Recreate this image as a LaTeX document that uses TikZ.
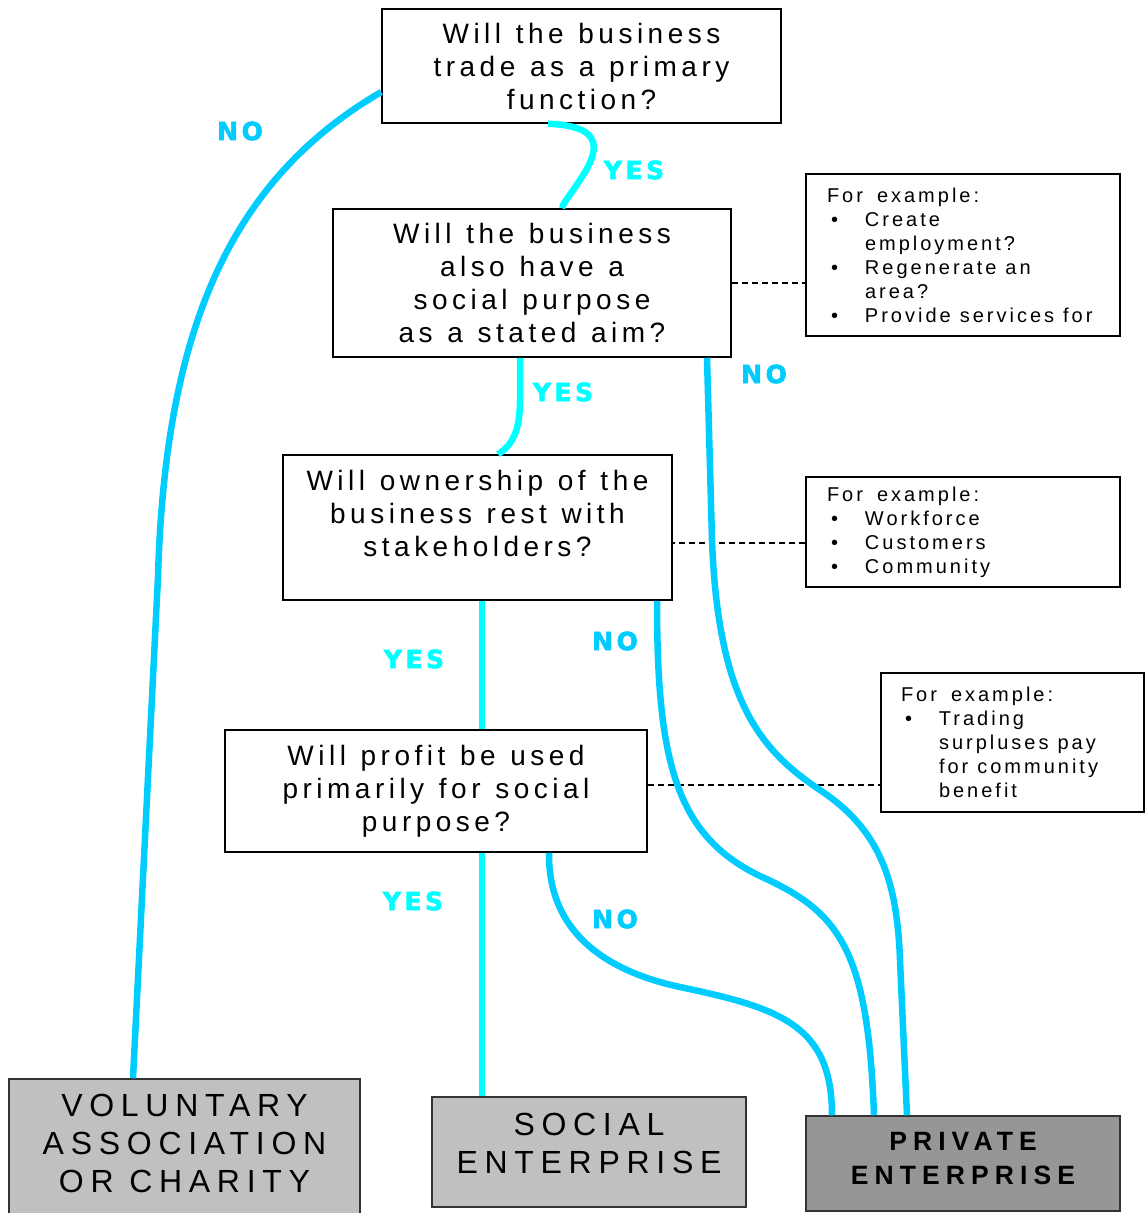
\documentclass[tikz,border=0pt]{standalone}
\usepackage{fontspec}
\usepackage{xcolor}
\usepackage{tikz}
\usetikzlibrary{calc}
\setmainfont{Liberation Sans}
\newfontfamily\qfont[LetterSpace=16,WordSpace=1.2]{Liberation Sans}
\newfontfamily\efont[LetterSpace=15]{Liberation Sans}
\newfontfamily\bfont[LetterSpace=21]{Liberation Sans}
\newfontfamily\pfont[LetterSpace=23]{Liberation Sans}
\newfontfamily\afont[LetterSpace=14,BoldFeatures={FakeBold=2.5}]{DejaVu Sans}
\definecolor{yescol}{HTML}{00FFFF}
\definecolor{nocol}{HTML}{00CCFF}
\definecolor{boxgray}{HTML}{C0C0C0}
\definecolor{privgray}{HTML}{969696}
\newcommand{\bul}{\makebox[38pt][l]{\hspace{4pt}\textbullet}}
\newcommand{\ind}{\makebox[38pt]{}}
\newcommand{\lift}[1]{\rule[-#1]{0pt}{#1}}
\newcommand{\widespace}{\spaceskip=9pt plus 2pt\relax}

\begin{document}
\begin{tikzpicture}[x=1pt,y=-1pt,semithick]
	\tikzstyle{question}=[draw=black, line width=1.5pt, fill=white, align=center, inner sep=0pt, font=\qfont\fontsize{28pt}{33pt}\selectfont]
	\tikzstyle{example}=[draw=black, line width=1.5pt, fill=white, align=left, inner ysep=0pt, font=\efont\fontsize{20pt}{24pt}\selectfont, execute at begin node=\widespace]
	\tikzstyle{outcome}=[draw=black!80, line width=1.5pt, fill=boxgray, align=center, inner sep=0pt, font=\bfont\fontsize{32pt}{38pt}\selectfont]
	\tikzstyle{yesflow}=[draw=yescol, line width=6.5pt]
	\tikzstyle{noflow}=[draw=nocol, line width=6.5pt]
	\tikzstyle{link}=[line width=1.5pt, dash pattern=on 6pt off 4pt]
	\tikzstyle{answer}=[font=\afont\bfseries\fontsize{25pt}{30pt}\selectfont]

	\useasboundingbox (0,0) rectangle (1145,1213);

	% questions
	\node[question, minimum width=399pt, minimum height=114pt] (q1) at (581.5,66) {Will the business\\trade as a primary\\function?};
	\node[question, minimum width=398pt, minimum height=148pt] (q2) at (532,283) {Will the business\\also have a\\social purpose\\as a stated aim?};
	\node[question, minimum width=389pt, minimum height=145pt] (q3) at (477.5,527.5) {Will ownership of the\\business rest with\\stakeholders?\lift{28pt}};
	\node[question, minimum width=422pt, minimum height=122pt] (q4) at (436,791) {Will profit be used\\primarily for social\\purpose?};

	% examples
	\node[example, text width=272pt, inner xsep=21pt, minimum height=162pt] (e1) at (963,255) {For\hspace{14pt}example:\\\bul\mbox{Create}\\\ind\mbox{employment?}\\\bul\mbox{Regenerate an}\\\ind\mbox{area?}\\\bul\mbox{Provide services for}};
	\node[example, text width=272pt, inner xsep=21pt, minimum height=110pt] (e2) at (963,532) {For\hspace{14pt}example:\\\bul\mbox{Workforce}\\\bul\mbox{Customers}\\\bul\mbox{Community}};
	\node[example, text width=223pt, inner xsep=20pt, minimum height=139pt] (e3) at (1012.5,742.5) {For\hspace{14pt}example:\\\bul\mbox{Trading}\\\ind\mbox{surpluses pay}\\\ind\mbox{for community}\\\ind\mbox{benefit}};

	% outcomes
	\node[outcome, minimum width=351pt, minimum height=146pt] (v) at (184.5,1152) {VOLUNTARY\\ASSOCIATION\\OR CHARITY\lift{17pt}};
	\node[outcome, minimum width=314pt, minimum height=110pt] (s) at (589,1152) {SOCIAL\\ENTERPRISE\lift{17pt}};
	\node[outcome, fill=privgray, minimum width=314pt, minimum height=95pt, font=\pfont\bfseries\fontsize{26.5pt}{34pt}\selectfont] (p) at (963,1163.5) {PRIVATE\\ENTERPRISE\lift{11pt}};

	% dashed links
	\draw[link] (q2.east) -- (q2.east -| e1.west);
	\draw[link] ([yshift=-11pt]e2.west) -- ([yshift=-11pt]e2.west -| q3.east);
	\draw[link] ([yshift=6pt]q4.east) -- ([yshift=6pt]q4.east -| e3.west);

	% yes
	\draw[yesflow] ([xshift=-33.5pt]q1.south) .. controls (605,126) and (600,150) .. (580,180) .. controls (568,198) and (562,205) .. ([xshift=30pt]q2.north);
	\draw[yesflow] ([xshift=-12pt]q2.south) -- (520,400) .. controls (520,432) and (512,445) .. ([xshift=20.5pt]q3.north);
	\draw[yesflow] ([xshift=4.5pt]q3.south) -- ([xshift=4.5pt]q3.south |- q4.north);
	\draw[yesflow] ([xshift=46pt]q4.south) -- ([xshift=46pt]q4.south |- s.north);

	% no
	\draw[noflow] ([yshift=-26pt]q1.west) .. controls (230,180) and (165,330) .. (158,577) -- ([xshift=-51.5pt]v.north);
	\draw[noflow] ([xshift=175pt]q2.south) -- (712,540) .. controls (718,700) and (760,750) .. (820,790) .. controls (880,830) and (897,880) .. (900,960) -- ([xshift=-56pt]p.north);
	\draw[noflow] ([xshift=179.5pt]q3.south) .. controls (657,760) and (675,835) .. (760,876) .. controls (840,912) and (868,950) .. ([xshift=-89pt]p.north);
	\draw[noflow] ([xshift=113pt]q4.south) .. controls (548,935) and (610,972) .. (680,987) .. controls (780,1008) and (832,1025) .. ([xshift=-131pt]p.north);

	\foreach \n/\x/\y in {y1/634/170, y2/563/392, y3/414/659, y4/413/901}
		\node[answer, text=yescol] (\n) at (\x,\y) {YES};
	\foreach \n/\x/\y in {n1/240/131, n2/764/374, n3/615/641, n4/615/919}
		\node[answer, text=nocol] (\n) at (\x,\y) {NO};
\end{tikzpicture}
\end{document}
